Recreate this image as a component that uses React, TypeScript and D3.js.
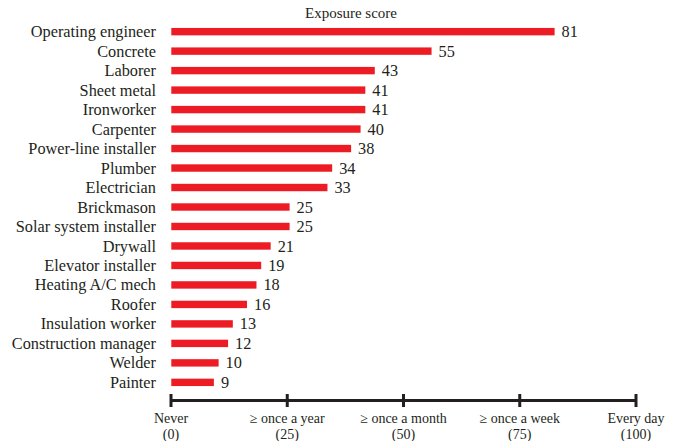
import React from "react";
import * as d3 from "d3";

const categories = [
  "Operating engineer", "Concrete", "Laborer", "Sheet metal", "Ironworker",
  "Carpenter", "Power-line installer", "Plumber", "Electrician", "Brickmason",
  "Solar system installer", "Drywall", "Elevator installer", "Heating A/C mech",
  "Roofer", "Insulation worker", "Construction manager", "Welder", "Painter",
];
const scores = [81, 55, 43, 41, 41, 40, 38, 34, 33, 25, 25, 21, 19, 18, 16, 13, 12, 10, 9];
const axisTickValues = [0, 25, 50, 75, 100];
const axisTickNames = ["Never", "≥ once a year", "≥ once a month", "≥ once a week", "Every day"];
const axisTitle = "Exposure score";

const W = 676;
const H = 441;
const FONT = "'Liberation Serif', 'Times New Roman', serif";
const INK = "#231f20";
const RED = "#ed1c24";

export default function App() {
  const x = d3.scaleLinear().domain([0, 100]).range([171.3, 644.5]);
  const xAxis = d3.scaleLinear().domain([0, 100]).range([171, 636]);
  const y = d3
    .scaleBand<string>()
    .domain(categories)
    .range([21.9, 392.1])
    .paddingInner(0.62)
    .paddingOuter(0.31);
  const axisY = 400.5;

  return (
    <svg
      width={W}
      height={H}
      style={{ position: "absolute", left: 0, top: 0, background: "#fff" }}
      fontFamily={FONT}
    >
      <text x={351} y={18} textAnchor="middle" fontSize={15} fill={INK}>
        {axisTitle}
      </text>
      {categories.map((c, i) => {
        const yy = y(c)!;
        const bw = y.bandwidth();
        const cy = yy + bw / 2;
        return (
          <g key={c}>
            <rect x={x(0)} y={yy} width={x(scores[i]) - x(0)} height={bw} fill={RED} />
            <text x={156} y={cy} dy="0.34em" textAnchor="end" fontSize={16.3} fill={INK}>
              {c}
            </text>
            <text x={x(scores[i]) + 7} y={cy} dy="0.34em" fontSize={16.3} fill={INK}>
              {scores[i]}
            </text>
          </g>
        );
      })}
      <line x1={xAxis(0)} x2={xAxis(100)} y1={axisY} y2={axisY} stroke={INK} strokeWidth={3} />
      {axisTickValues.map((v, i) => (
        <g key={v} transform={`translate(${xAxis(v)},0)`}>
          <line y1={axisY - 6.5} y2={axisY + 6.5} stroke={INK} strokeWidth={3} />
          <text y={423} textAnchor="middle" fontSize={14} fill={INK}>
            {axisTickNames[i]}
          </text>
          <text y={439} textAnchor="middle" fontSize={14} fill={INK}>
            ({v})
          </text>
        </g>
      ))}
    </svg>
  );
}
